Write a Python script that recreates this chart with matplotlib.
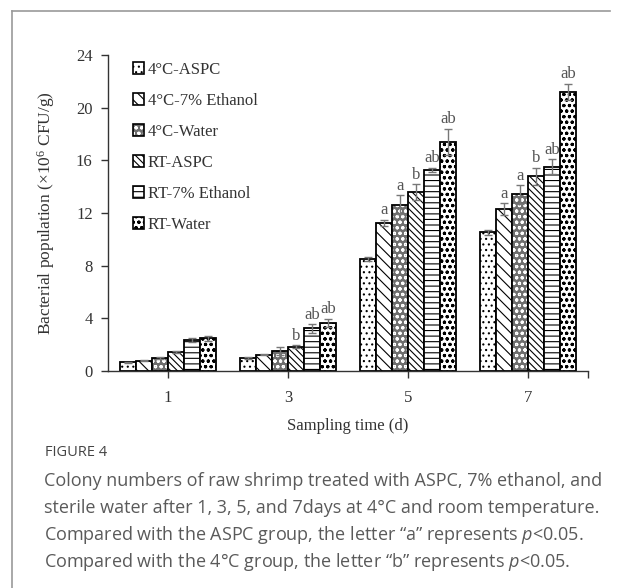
import numpy as np
import matplotlib
matplotlib.use("Agg")
import matplotlib.pyplot as plt
from matplotlib.patches import Patch
from matplotlib.lines import Line2D

# data
days = ["1", "3", "5", "7"]
groups = ["4°C-ASPC", "4°C-7% Ethanol", "4°C-Water",
          "RT-ASPC", "RT-7% Ethanol", "RT-Water"]
means = [
    [0.66, 0.96, 8.50, 10.53],   # 4C-ASPC
    [0.78, 1.24, 11.24, 12.30],  # 4C-7% Ethanol
    [1.00, 1.49, 12.63, 13.41],  # 4C-Water
    [1.44, 1.85, 13.59, 14.78],  # RT-ASPC
    [2.35, 3.24, 15.26, 15.51],  # RT-7% Ethanol
    [2.48, 3.67, 17.41, 21.20],  # RT-Water
]
errs = [
    [0.05, 0.08, 0.15, 0.20],
    [0.05, 0.06, 0.25, 0.43],
    [0.08, 0.30, 0.70, 0.71],
    [0.06, 0.10, 0.60, 0.66],
    [0.12, 0.33, 0.18, 0.58],
    [0.20, 0.30, 1.00, 0.63],
]
letters = [
    ["", "", "", ""],
    ["", "", "a", "a"],
    ["", "", "a", "a"],
    ["", "b", "b", "b"],
    ["", "ab", "ab", "ab"],
    ["", "ab", "ab", "ab"],
]
hatches = ["...", "\\\\\\", "ooo", "\\\\\\\\\\", "---", "ooo..."]
fills = ["white", "white", "#6e6e6e", "white", "white", "white"]
hatch_colors = ["black", "black", "white", "black", "black", "black"]

plt.rcParams["hatch.linewidth"] = 0.8
plt.rcParams["mathtext.fontset"] = "custom"
plt.rcParams["mathtext.it"] = "Open Sans:italic"
serif = "Liberation Serif"

fig = plt.figure(figsize=(6.22, 5.88), dpi=100)
ax = fig.add_axes([108 / 622, 1 - 371 / 588, 480 / 622, 316 / 588])

x = np.arange(len(days))
w = 0.8 / len(groups)
for i, g in enumerate(groups):
    pos = x - 0.4 + w * (i + 0.5)
    ax.bar(pos, means[i], w, facecolor=fills[i], edgecolor=hatch_colors[i],
           hatch=hatches[i], linewidth=0, zorder=2)
    ax.bar(pos, means[i], w, facecolor="none", edgecolor="black",
           linewidth=1.3, zorder=2)
    ax.errorbar(pos, means[i], yerr=errs[i], fmt="none", ecolor="#777777",
                elinewidth=1, capsize=3, capthick=1, zorder=3)
    for j in range(len(days)):
        if letters[i][j]:
            ax.text(pos[j], means[i][j] + errs[i][j] + 0.1, letters[i][j],
                    ha="center", va="bottom", fontsize=12, family=serif,
                    color="#555555")

ax.set_xlim(-0.5, 3.5)
ax.set_ylim(0, 24)
ax.set_yticks(range(0, 25, 4))
ax.set_xticks(list(x) + [3.5])
ax.set_xticklabels(days + [""])
for s in ["top", "right"]:
    ax.spines[s].set_visible(False)
for s in ["left", "bottom"]:
    ax.spines[s].set_color("#333333")
    ax.spines[s].set_linewidth(1.0)
ax.tick_params(axis="both", direction="out", length=5, width=1,
               color="#333333", labelsize=12, labelcolor="#333333", pad=6)
for lab in ax.get_xticklabels() + ax.get_yticklabels():
    lab.set_family(serif)
ax.tick_params(axis="x", pad=9)

ax.set_xlabel("Sampling time (d)", family=serif, fontsize=12,
              color="#333333", labelpad=8)
ax.set_ylabel("Bacterial population (×10$\\mathregular{^6}$ CFU/g)",
              family=serif, fontsize=12.5, color="#333333", labelpad=14)

handles = [(Patch(facecolor=f, edgecolor=c, hatch=h, linewidth=0),
            Patch(facecolor="none", edgecolor="black", linewidth=1.2))
           for h, f, c in zip(hatches, fills, hatch_colors)]
ax.legend(handles, groups, loc="upper left", bbox_to_anchor=(0.02, 1.025),
          frameon=False, prop={"family": serif, "size": 12},
          handlelength=0.7, handleheight=0.7, handletextpad=0.2,
          labelspacing=0.9, labelcolor="#333333")

# page frame lines
fig.add_artist(Line2D([12 / 622, 12 / 622], [0, 1 - 11 / 588],
                      color="#999999", lw=1.2))
fig.add_artist(Line2D([12 / 622, 610 / 622], [1 - 11 / 588, 1 - 11 / 588],
                      color="#999999", lw=1.2))

cap = "Open Sans"
fig.text(45 / 622, 1 - 453 / 588, "FIGURE 4", family=cap, fontsize=10.5,
         color="#444444", va="center")
lines = [
    "Colony numbers of raw shrimp treated with ASPC, 7% ethanol, and",
    "sterile water after 1, 3, 5, and 7days at 4°C and room temperature.",
    "Compared with the ASPC group, the letter \u201ca\u201d represents $\\mathit{p}$<0.05.",
    "Compared with the 4°C group, the letter \u201cb\u201d represents $\\mathit{p}$<0.05.",
]
for k, ln in enumerate(lines):
    fig.text(44 / 622, 1 - (481 + 27 * k) / 588, ln, family=cap,
             fontsize=13, color="#5a5a5a", va="center")

fig.savefig("out.png", dpi=100)
